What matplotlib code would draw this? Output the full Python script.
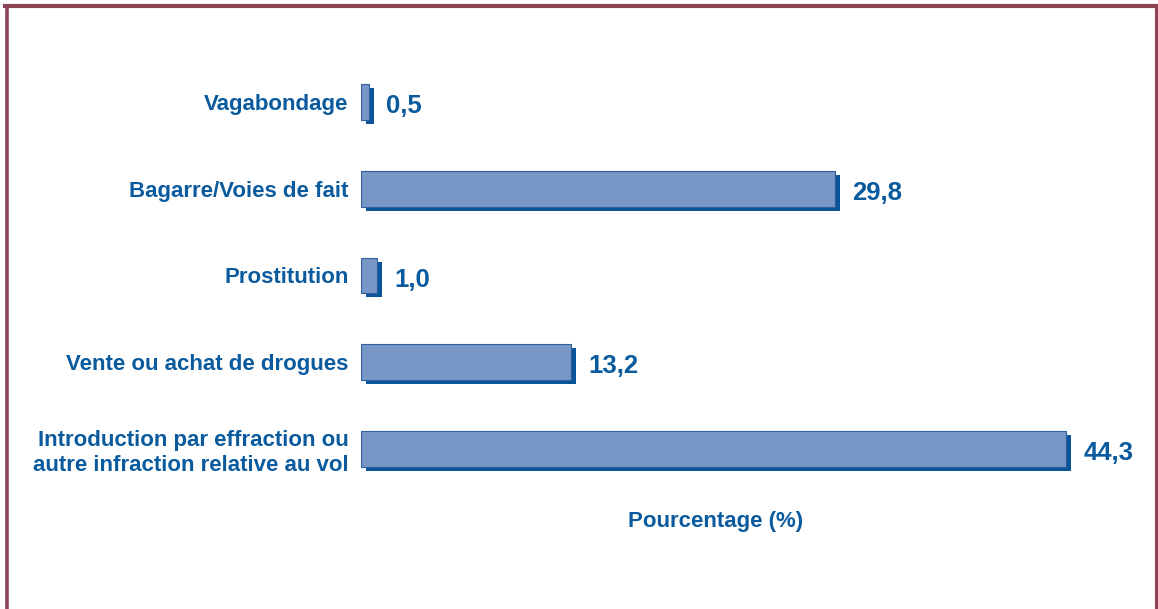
import numpy as np
import matplotlib
matplotlib.use("Agg")
import matplotlib.pyplot as plt
import matplotlib.transforms as mtransforms
from matplotlib.lines import Line2D

# data, bottom to top
categories = ["Introduction par effraction ou\nautre infraction relative au vol",
              "Vente ou achat de drogues",
              "Prostitution",
              "Bagarre/Voies de fait",
              "Vagabondage"]
values = [44.3, 13.2, 1.0, 29.8, 0.5]
value_labels = ["44,3", "13,2", "1,0", "29,8", "0,5"]

blue_text = "#0A5A9E"
bar_fill = "#7896C6"
bar_edge = "#2F5F9C"
shadow = "#0A559A"
border = "#8B4455"

plt.rcParams['font.family'] = ['Liberation Sans', 'DejaVu Sans']

fig = plt.figure(figsize=(11.58, 6.09), dpi=100)
W, H = 1158, 609
x0 = 361
scale = 15.91
xmax = 50
ax = fig.add_axes([x0 / W, 1 - 501 / H, xmax * scale / W, (501 - 50) / H])
ax.set_xlim(0, xmax)
ax.set_ylim(-0.6, 4.6)

ypos = np.arange(len(categories))
h = 0.41

# shadow: 5px right, 4px down
shadow_tr = ax.transData + mtransforms.ScaledTranslation(5 / 100, -4 / 100, fig.dpi_scale_trans)
ax.barh(ypos, values, height=h, color=shadow, transform=shadow_tr, zorder=1)
ax.barh(ypos, values, height=h, color=bar_fill, edgecolor=bar_edge, linewidth=0.8, zorder=2)

for y, v, lab in zip(ypos, values, value_labels):
    ax.annotate(lab, (v, y), xytext=(12.5, -3), textcoords="offset points",
                ha="left", va="center", fontsize=18.5, fontweight="bold", color=blue_text)

ax.set_yticks(ypos)
ax.set_yticklabels(categories, fontsize=16, fontweight="bold", color=blue_text, linespacing=1.2)
ax.tick_params(axis="y", length=0, pad=9)
for t in ax.get_yticklabels():
    t.set_y(t.get_position()[1])
ax.set_xticks([])
for s in ax.spines.values():
    s.set_visible(False)

fig.text(716 / W, 1 - 522 / H, "Pourcentage (%)", ha="center", va="center",
         fontsize=16, fontweight="bold", color=blue_text)

# frame around the figure (left, top, right)
fig.add_artist(Line2D([6.5 / W, 6.5 / W], [0, 1 - 6 / H], transform=fig.transFigure, color=border, lw=2.6))
fig.add_artist(Line2D([5 / W, 1156 / W], [1 - 6 / H, 1 - 6 / H], transform=fig.transFigure, color=border, lw=3.0))
fig.add_artist(Line2D([1155.5 / W, 1155.5 / W], [0, 1 - 6 / H], transform=fig.transFigure, color=border, lw=2.2))

fig.savefig("out.png", dpi=100)
